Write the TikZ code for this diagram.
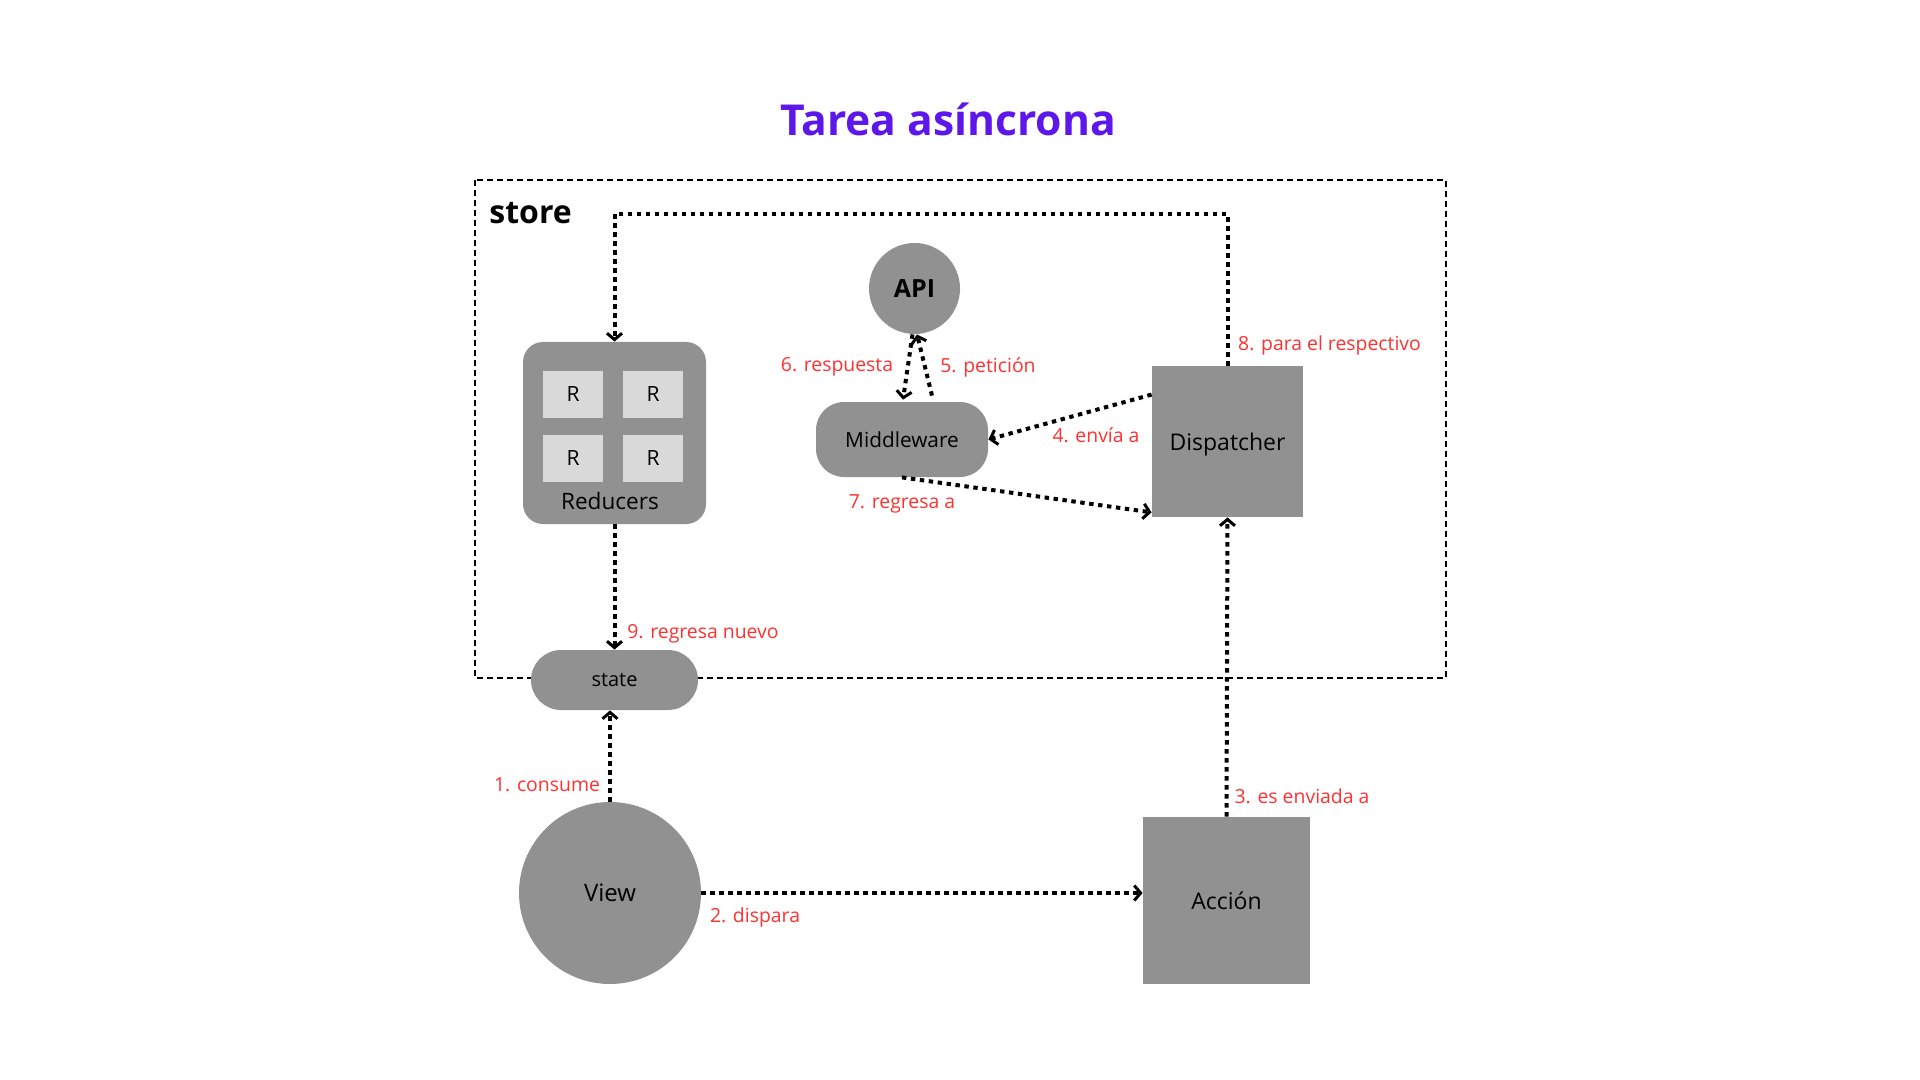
\documentclass[tikz,border=0pt]{standalone}
\usepackage{fontspec}
\setmainfont{Open Sans}
\usetikzlibrary{arrows.meta,calc}
\definecolor{boxgray}{RGB}{145,145,145}
\definecolor{rgray}{RGB}{217,217,217}
\definecolor{lblred}{RGB}{255,49,49}
\definecolor{titlepurple}{RGB}{94,23,235}
\tikzset{
  box/.style={fill=boxgray, draw=none, inner sep=0pt, text=black},
  rbox/.style={fill=rgray, draw=none, inner sep=0pt, minimum width=30pt, minimum height=23.5pt, font=\fontsize{10.5}{12}\selectfont},
  flow/.style={line width=2pt, dash pattern=on 2.2pt off 2.3pt, -{Straight Barb[length=3.2pt,width=7.5pt,line width=1.5pt]}},
  lbl/.style={text=lblred, font=\fontsize{9.7}{11}\selectfont, inner sep=0pt},
  storebox/.style={line width=0.75pt, dash pattern=on 3pt off 2pt},
}
\begin{document}
\begin{tikzpicture}[x=0.5pt,y=-0.5pt]
\useasboundingbox[fill=white] (0,0) rectangle (1920,1080);

% title
\node[text=titlepurple, font=\fontsize{21.3}{25}\selectfont\bfseries, inner sep=0pt] (title) at (948,119) {Tarea asíncrona};

% store frame
\draw[storebox] (475,180) rectangle (1446,678);
\node[anchor=west, font=\fontsize{16}{19}\selectfont\bfseries, inner sep=0pt] (store) at (489,213) {store};

% Reducers
\node[box, minimum width=91.5pt, minimum height=91pt, rounded corners=10pt] (red) at (614.5,433) {};
\node[rbox] (r1) at (573,394.5) {R};
\node[rbox] (r2) at (653,394.5) {R};
\node[rbox] (r3) at (573,458) {R};
\node[rbox] (r4) at (653,458) {R};
\node[font=\fontsize{11.3}{13}\selectfont, inner sep=0pt] (redlbl) at (610,501) {Reducers};

% API
\node[box, circle, minimum size=45.5pt, font=\fontsize{12.5}{14}\selectfont\bfseries] (api) at (914.5,288.5) {API};

% Middleware
\node[box, minimum width=86pt, minimum height=37.5pt, rounded corners=14pt, font=\fontsize{10.4}{12}\selectfont] (mw) at (902,439.5) {Middleware};

% Dispatcher
\node[box, minimum width=75.5pt, minimum height=75.5pt, font=\fontsize{11.5}{14}\selectfont, text depth=0pt] (disp) at (1227.5,441.5) {Dispatcher};

% state
\node[box, minimum width=83.5pt, minimum height=30pt, rounded corners=15pt, font=\fontsize{10}{12}\selectfont] (state) at (614.5,680) {state};

% View
\node[box, circle, minimum size=91pt, font=\fontsize{12}{14}\selectfont] (view) at (610,893) {View};

% Accion
\node[box, minimum width=83.5pt, minimum height=83.5pt, font=\fontsize{11.5}{14}\selectfont] (acc) at (1226.5,900.5) {Acción};

% connectors
\coordinate (c8) at (1227.5,214);
\draw[flow] (view.north) -- (view.north |- state.south);
\draw[flow] (view.east) -- (acc.west |- view.east);
\draw[flow] (acc.north) -- (disp.south);
\draw[flow] ($(disp.north west)+(0,29)$) -- (mw.east);
\draw[flow] ($(mw.north)+(30,-6)$) -- ($(api.south)+(2.5,0)$);
\draw[flow] ($(api.south)+(-2,0)$) -- ($(mw.north)+(1,-2)$);
\draw[flow] (mw.south) -- ($(disp.south west)+(0,-5)$);
\draw[flow] (disp.north) -- (c8) -| (red.north);
\draw[flow] (red.south) -- (state.north);

% labels
\node[lbl] (l1) at (547,785) {1. consume};
\node[lbl] (l2) at (755,917) {2. dispara};
\node[lbl] (l3) at (1302,796) {3. es enviada a};
\node[lbl] (l4) at (1096,435) {4. envía a};
\node[lbl] (l5) at (988,367) {5. petición};
\node[lbl] (l6) at (837,367) {6. respuesta};
\node[lbl] (l7) at (902,504) {7. regresa a};
\node[lbl] (l8) at (1329.5,345) {8. para el respectivo};
\node[lbl] (l9) at (703,634) {9. regresa nuevo};
\end{tikzpicture}
\end{document}
